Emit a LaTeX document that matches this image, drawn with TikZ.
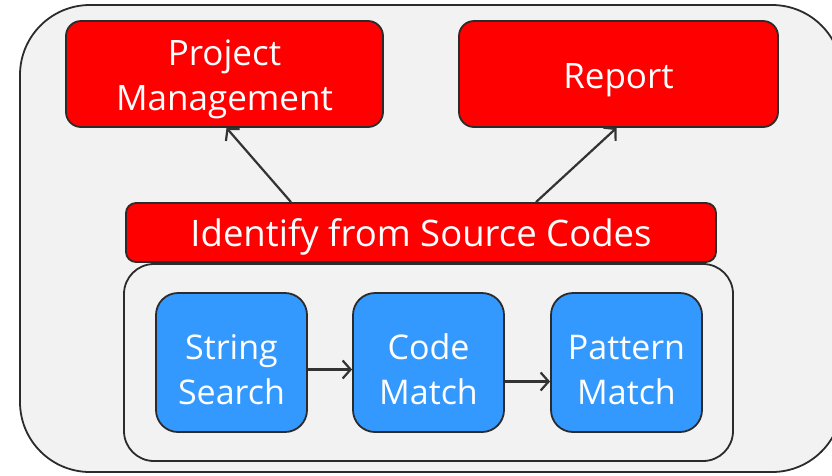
\documentclass[tikz,border=0pt]{standalone}
\usepackage{fontspec}
\setmainfont{Open Sans}
\usetikzlibrary{arrows.meta}
\definecolor{bgray}{HTML}{F2F2F2}
\definecolor{bred}{HTML}{FF0000}
\definecolor{bblue}{HTML}{3399FF}
\definecolor{edgec}{HTML}{2B2B2B}
\definecolor{arrc}{HTML}{333333}
\newcommand\boxlines[2][-5pt]{\raisebox{#1}[\height][\depth]{\begin{tabular}{@{}c@{}}#2\end{tabular}}}
\begin{document}
\begin{tikzpicture}[x=1pt,y=-1pt,
  box/.style={draw=edgec, line width=1.8pt, inner sep=0pt,
    text=white, font=\fontsize{35}{45}\selectfont},
  redbox/.style={box, fill=bred, rounded corners=15pt},
  bluebox/.style={box, fill=bblue, rounded corners=22pt,
    minimum width=151pt, minimum height=139pt, font=\fontsize{34}{45}\selectfont},
  groupbox/.style={draw=edgec, line width=1.8pt, fill=bgray, rounded corners=30pt,
    inner sep=0pt},
  conn/.style={draw=arrc, line width=2.2pt,
    -{Straight Barb[length=8pt,width=18pt,line width=2.2pt]}}]
\useasboundingbox (0,0) rectangle (832,475);
\draw[draw=edgec, line width=1.8pt, fill=bgray, rounded corners=70pt]
  (20,5) rectangle (842,472);
\node[redbox, minimum width=317pt, minimum height=106pt] (pm) at (224.5,74)
  {\boxlines{Project\\Management}};
\node[redbox, minimum width=319pt, minimum height=106pt] (rep) at (618.5,74)
  {\boxlines{Report}};
\node[groupbox, minimum width=609pt, minimum height=197pt] (grp) at (428.5,362.5) {};
\node[redbox, rounded corners=10pt, minimum width=590pt, minimum height=59pt,
  font=\fontsize{36.5}{45}\selectfont] (idf) at (421,232.5)
  {\boxlines{Identify from Source Codes}};
\node[bluebox] (ss) at (231.5,362.5) {\boxlines[-10pt]{String\\Search}};
\node[bluebox] (cm) at (428.5,362.5) {\boxlines[-10pt]{Code\\Match}};
\node[bluebox] (pt) at (626.5,362.5) {\boxlines[-10pt]{Pattern\\Match}};
\draw[conn] ([xshift=-130pt]idf.north) -- ([xshift=2pt]pm.south);
\draw[conn] ([xshift=115pt]idf.north) -- ([xshift=-2pt]rep.south);
\draw[conn] ([yshift=-7pt]ss.east) -- ([yshift=-7pt]cm.west);
\draw[conn] ([yshift=-19pt]cm.east) -- ([yshift=-19pt]pt.west);
\end{tikzpicture}
\end{document}
